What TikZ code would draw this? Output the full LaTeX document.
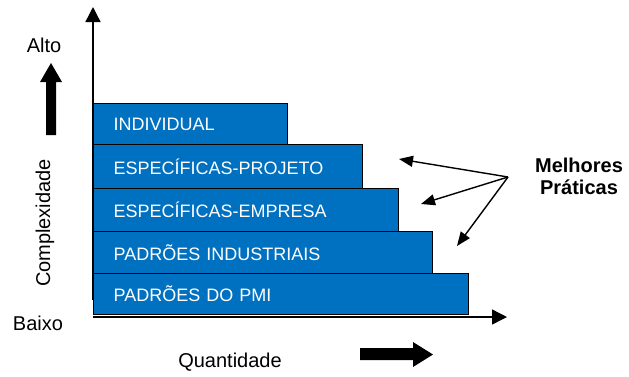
\documentclass[tikz,border=0pt]{standalone}
\usepackage{fontspec}
\setmainfont{Liberation Sans}
\usetikzlibrary{arrows.meta}
\definecolor{barblue}{RGB}{0,112,192}
\begin{document}
\begin{tikzpicture}[x=1pt,y=-1pt,
  bar/.style={draw=black, line width=1.3pt, fill=barblue, text=white,
    anchor=north west, inner xsep=20pt, inner ysep=0pt, align=left,
    font=\fontsize{18}{20}\selectfont},
  axis/.style={line width=1.4pt, -{Triangle[length=15pt,width=15pt]}},
  ptr/.style={line width=1.4pt, -{Triangle[length=14pt,width=11pt]}},
  lbl/.style={font=\fontsize{20}{22}\selectfont, inner sep=0pt},
  block/.style={fill=black}]
\useasboundingbox (0,0) rectangle (629,376);
% axes
\coordinate (o) at (93,317);
\coordinate (ytop) at (93,7);
\coordinate (xend) at (507,317);
\draw[axis] (93,300) -- (ytop);
\draw[axis] (o) -- (xend);
% bars
\node[bar, text width=154pt, minimum height=41pt] (b1) at (93,103) {INDIVIDUAL};
\node[bar, text width=229pt, minimum height=44pt] (b2) at (93,144) {ESPECÍFICAS-PROJETO};
\node[bar, text width=265pt, minimum height=43pt] (b3) at (93,188) {ESPECÍFICAS-EMPRESA};
\node[bar, text width=299pt, minimum height=42pt] (b4) at (93,231) {PADRÕES INDUSTRIAIS};
\node[bar, text width=335pt, minimum height=41pt] (b5) at (93,273) {PADRÕES DO PMI};
% labels
\node[lbl] (alto) at (44,45) {Alto};
\node[lbl] (baixo) at (38,323) {Baixo};
\node[lbl, rotate=90] (compl) at (45,223) {Complexidade};
\node[lbl] (quant) at (230,362) {Quantidade};
% block arrows
\fill[block] (46,135) -- (56,135) -- (56,82) -- (62,82) -- (51,63) -- (40,82) -- (46,82) -- cycle;
\fill[block] (360,348) -- (413,348) -- (413,342) -- (433,354.5) -- (413,367) -- (413,360) -- (360,360) -- cycle;
% best practices
\node[lbl, font=\bfseries\fontsize{20}{22}\selectfont, align=center] (mp) at (579,176) {Melhores\\Práticas};
\coordinate (hub) at (508,177);
\coordinate (t1) at (399,159);
\coordinate (t2) at (421,204);
\coordinate (t3) at (457,246);
\draw[ptr] (hub) -- (t1);
\draw[ptr] (hub) -- (t2);
\draw[ptr] (hub) -- (t3);
\end{tikzpicture}
\end{document}
